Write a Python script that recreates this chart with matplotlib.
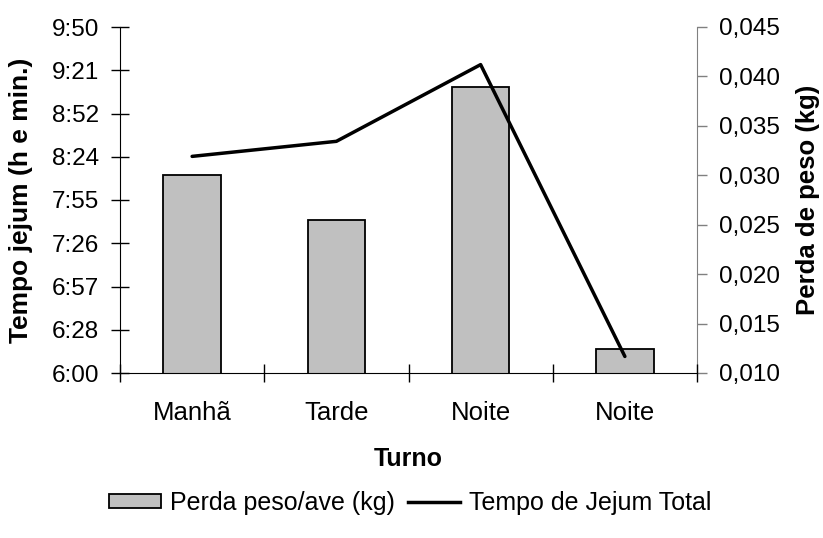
import matplotlib
matplotlib.use("Agg")
import matplotlib.pyplot as plt
from matplotlib.patches import Patch
from matplotlib.lines import Line2D
import numpy as np

plt.rcParams['font.family'] = ['Liberation Sans', 'DejaVu Sans']

categories = ["Manhã", "Tarde", "Noite", "Noite"]
perda_peso = [0.0300, 0.0255, 0.0389, 0.0124]
tempo_jejum = ["8:24", "8:34", "9:25", "6:11"]
time_tick_labels = ["6:00", "6:28", "6:57", "7:26", "7:55", "8:24", "8:52", "9:21", "9:50"]
weight_tick_labels = ["0,010", "0,015", "0,020", "0,025", "0,030", "0,035", "0,040", "0,045"]

def to_min(s):
    h, m = s.split(":")
    return int(h) * 60 + int(m)

tempo_min = [to_min(s) for s in tempo_jejum]
t_lo, t_hi = 360, 590
time_ticks = np.linspace(t_lo, t_hi, len(time_tick_labels))
w_ticks = [float(s.replace(",", ".")) for s in weight_tick_labels]

W, H = 823, 538
fig = plt.figure(figsize=(W / 100, H / 100), dpi=100)
AX_L, AX_R, AX_T, AX_B = 120, 697, 27, 373
ax = fig.add_axes([AX_L / W, (H - AX_B) / H, (AX_R - AX_L) / W, (AX_B - AX_T) / H])
ax2 = ax.twinx()
aw = AX_R - AX_L

x = np.arange(len(categories))
FS_NUM = 17.5
FS_CAT = 18.5
FS_YLAB = 19
FS_YLAB_R = 18.5
FS_XLAB = 18
FS_LEG = 18

ax2.bar(x, perda_peso, width=0.4, color="#C0C0C0", edgecolor="black", linewidth=1.3, zorder=2)
ax2.set_ylim(w_ticks[0], w_ticks[-1])
ax2.set_yticks(w_ticks)
ax2.set_yticklabels(weight_tick_labels, fontsize=FS_NUM)
ax2.tick_params(axis='y', direction='out', length=7, width=1, color="#808080", pad=8.6)
ax2.set_ylabel("Perda de peso (kg)", fontsize=FS_YLAB_R, fontweight='bold')
ax2.yaxis.set_label_coords((808 - AX_L) / aw, 0.5)
ax2.yaxis.label.set_verticalalignment('center')

ax.plot(x, tempo_min, color="black", linewidth=2.5, solid_capstyle='round', zorder=3)
ax.set_zorder(ax2.get_zorder() + 1)
ax.patch.set_visible(False)
ax.set_ylim(t_lo, t_hi)
ax.set_yticks(time_ticks)
ax.set_yticklabels(time_tick_labels, fontsize=FS_NUM)
ax.tick_params(axis='y', direction='inout', length=13, width=1, pad=8.6)
ax.set_ylabel("Tempo jejum (h e min.)", fontsize=FS_YLAB, fontweight='bold')
ax.yaxis.set_label_coords((21 - AX_L) / aw, 0.5)
ax.yaxis.label.set_verticalalignment('center')

ax.set_xlim(-0.5, len(categories) - 0.5)
ax.set_xticks(x)
ax.set_xticklabels(categories, fontsize=FS_CAT)
ax.set_xticks(np.arange(-0.5, len(categories), 1.0), minor=True)
ax.tick_params(axis='x', which='major', length=0, pad=20)
ax.tick_params(axis='x', which='minor', direction='inout', length=13, width=1)
ax.set_xlabel("Turno", fontsize=FS_XLAB, fontweight='bold', labelpad=16)

for a in (ax, ax2):
    a.spines['top'].set_visible(False)
ax.spines['right'].set_visible(False)
ax2.spines['left'].set_visible(False)
ax2.spines['bottom'].set_visible(False)
ax2.spines['right'].set_color("#808080")
ax.spines['left'].set_color("black")
ax.spines['bottom'].set_color("black")

handles = [Patch(facecolor="#C0C0C0", edgecolor="black", linewidth=1.3),
           Line2D([0], [0], color="black", linewidth=2.5)]
fig.legend(handles, ["Perda peso/ave (kg)", "Tempo de Jejum Total"], loc='center',
           bbox_to_anchor=(410 / W, 1 - 503 / H), ncol=2, frameon=False, fontsize=FS_LEG,
           handlelength=2.1, handleheight=0.45, handletextpad=0.35, columnspacing=0.5)

fig.savefig("out.png", dpi=100)
